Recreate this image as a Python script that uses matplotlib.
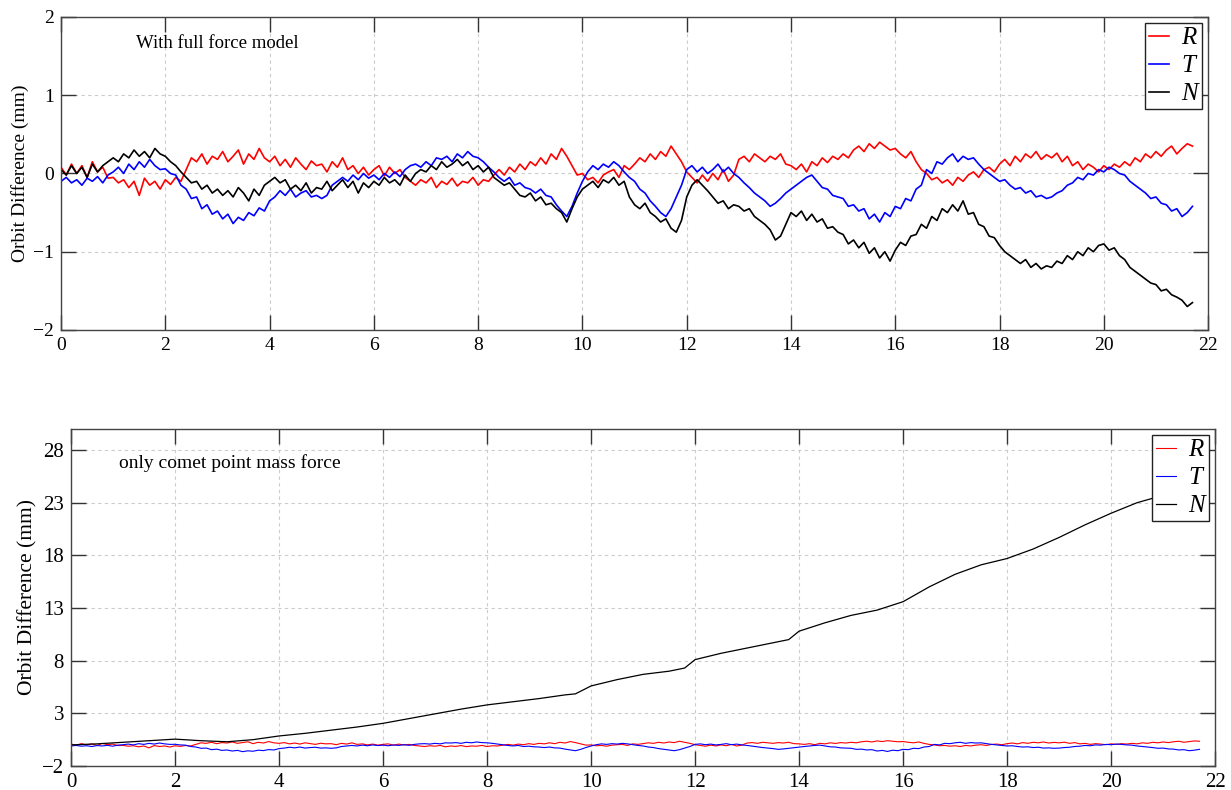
import matplotlib

matplotlib.use("Agg")
import matplotlib.pyplot as plt
import numpy as np

# orbit differences (mm), one sample every 0.1 day
r_full = [
    0.08, -0.02, 0.12, 0.0, 0.10, -0.05, 0.15, 0.02, 0.08, -0.06,
    -0.05, -0.12, -0.08, -0.18, -0.10, -0.28, -0.06, -0.15, -0.10, -0.20,
    -0.08, -0.14, -0.05, -0.10, 0.05, 0.20, 0.15, 0.25, 0.12, 0.22,
    0.18, 0.28, 0.15, 0.22, 0.30, 0.12, 0.25, 0.18, 0.32, 0.20,
    0.15, 0.22, 0.10, 0.18, 0.08, 0.20, 0.12, 0.05, 0.16, 0.10,
    0.12, 0.02, 0.15, 0.08, 0.20, 0.05, 0.10, 0.0, 0.08, -0.02,
    0.05, 0.10, -0.03, 0.08, 0.0, 0.05, -0.05, -0.10, -0.15, -0.08,
    -0.12, -0.05, -0.18, -0.10, -0.14, -0.06, -0.16, -0.10, -0.12, -0.05,
    -0.15, -0.08, -0.10, -0.02, 0.05, -0.02, 0.08, 0.02, 0.12, 0.05,
    0.15, 0.10, 0.20, 0.12, 0.25, 0.18, 0.32, 0.22, 0.10, -0.02,
    0.0, -0.08, -0.05, -0.12, -0.02, 0.02, 0.05, -0.05, 0.10, 0.05,
    0.12, 0.20, 0.15, 0.25, 0.18, 0.28, 0.22, 0.35, 0.25, 0.15,
    0.02, -0.05, -0.12, -0.02, -0.10, 0.0, -0.08, 0.05, -0.10, -0.02,
    0.18, 0.22, 0.15, 0.25, 0.20, 0.15, 0.22, 0.18, 0.25, 0.12,
    0.10, 0.05, 0.12, 0.02, 0.15, 0.10, 0.20, 0.14, 0.22, 0.18,
    0.25, 0.20, 0.30, 0.35, 0.28, 0.38, 0.32, 0.40, 0.35, 0.30,
    0.32, 0.25, 0.20, 0.28, 0.15, 0.05, 0.0, -0.08, -0.05, -0.12,
    -0.08, -0.15, -0.05, -0.10, -0.02, 0.02, -0.05, 0.05, 0.08, 0.02,
    0.12, 0.18, 0.10, 0.22, 0.15, 0.25, 0.20, 0.28, 0.18, 0.24,
    0.20, 0.26, 0.15, 0.22, 0.10, 0.15, 0.05, 0.12, 0.08, 0.02,
    0.10, 0.05, 0.12, 0.08, 0.15, 0.10, 0.20, 0.15, 0.25, 0.20,
    0.28, 0.22, 0.30, 0.35, 0.25, 0.32, 0.38, 0.35,
]
t_full = [
    -0.10, -0.05, -0.12, -0.08, -0.15, -0.06, -0.10, -0.04, -0.12, -0.02,
    0.02, 0.08, 0.0, 0.12, 0.05, 0.15, 0.08, 0.18, 0.10, 0.05,
    0.06, 0.0, -0.02, -0.15, -0.20, -0.32, -0.30, -0.45, -0.40, -0.52,
    -0.48, -0.58, -0.52, -0.64, -0.56, -0.60, -0.50, -0.54, -0.44, -0.48,
    -0.35, -0.30, -0.22, -0.28, -0.20, -0.30, -0.25, -0.22, -0.30, -0.28,
    -0.32, -0.28, -0.15, -0.10, -0.05, -0.10, -0.02, -0.08, 0.0, -0.06,
    -0.02, -0.08, 0.0, -0.05, 0.02, -0.04, 0.05, 0.10, 0.12, 0.08,
    0.15, 0.10, 0.20, 0.18, 0.22, 0.15, 0.25, 0.20, 0.28, 0.22,
    0.20, 0.15, 0.08, 0.02, -0.05, -0.10, -0.05, -0.15, -0.12, -0.18,
    -0.20, -0.25, -0.20, -0.28, -0.30, -0.40, -0.48, -0.55, -0.42, -0.25,
    -0.10, 0.02, 0.10, 0.05, 0.12, 0.08, 0.15, 0.10, 0.02, -0.05,
    -0.10, -0.20, -0.25, -0.35, -0.42, -0.50, -0.55, -0.45, -0.30, -0.15,
    0.05, 0.10, 0.02, 0.08, 0.0, 0.05, 0.12, 0.02, 0.08, 0.0,
    -0.05, -0.12, -0.18, -0.25, -0.30, -0.35, -0.42, -0.38, -0.32, -0.25,
    -0.20, -0.15, -0.10, -0.05, -0.02, -0.10, -0.18, -0.20, -0.28, -0.30,
    -0.32, -0.42, -0.40, -0.48, -0.45, -0.58, -0.52, -0.62, -0.50, -0.55,
    -0.42, -0.45, -0.32, -0.35, -0.20, -0.15, 0.05, 0.0, 0.15, 0.12,
    0.20, 0.25, 0.15, 0.22, 0.18, 0.20, 0.12, 0.05, 0.0, -0.05,
    -0.10, -0.08, -0.15, -0.20, -0.18, -0.25, -0.22, -0.30, -0.28, -0.32,
    -0.30, -0.25, -0.22, -0.15, -0.12, -0.05, -0.08, 0.0, -0.02, 0.05,
    0.02, 0.08, 0.05, 0.0, -0.02, -0.10, -0.15, -0.20, -0.25, -0.32,
    -0.30, -0.38, -0.40, -0.48, -0.45, -0.55, -0.50, -0.42,
]
n_full = [
    0.05, -0.02, 0.10, 0.0, 0.08, -0.05, 0.12, 0.02, 0.10, 0.15,
    0.20, 0.15, 0.25, 0.20, 0.30, 0.22, 0.28, 0.20, 0.32, 0.25,
    0.22, 0.15, 0.10, 0.02, -0.05, -0.12, -0.10, -0.20, -0.15, -0.25,
    -0.20, -0.28, -0.22, -0.30, -0.18, -0.25, -0.35, -0.20, -0.28, -0.15,
    -0.10, -0.05, -0.12, -0.08, -0.20, -0.15, -0.22, -0.12, -0.25, -0.18,
    -0.20, -0.10, -0.22, -0.15, -0.08, -0.18, -0.10, -0.25, -0.12, -0.18,
    -0.10, -0.15, -0.05, -0.12, -0.08, -0.15, -0.02, -0.10, 0.0, 0.05,
    0.02, 0.10, 0.05, 0.15, 0.08, 0.12, 0.18, 0.10, 0.15, 0.05,
    0.10, 0.02, 0.08, -0.05, -0.10, -0.15, -0.12, -0.20, -0.28, -0.30,
    -0.25, -0.35, -0.30, -0.40, -0.38, -0.45, -0.50, -0.62, -0.45, -0.30,
    -0.20, -0.15, -0.10, -0.18, -0.08, -0.12, -0.05, -0.15, -0.10, -0.30,
    -0.40, -0.45, -0.38, -0.50, -0.55, -0.62, -0.58, -0.70, -0.75, -0.60,
    -0.30, -0.15, -0.08, -0.15, -0.22, -0.30, -0.38, -0.35, -0.45, -0.40,
    -0.42, -0.48, -0.45, -0.55, -0.60, -0.65, -0.72, -0.85, -0.80, -0.65,
    -0.50, -0.55, -0.48, -0.60, -0.52, -0.62, -0.58, -0.70, -0.68, -0.75,
    -0.78, -0.90, -0.85, -0.95, -0.88, -1.02, -0.95, -1.08, -1.00, -1.12,
    -0.98, -0.88, -0.92, -0.80, -0.78, -0.65, -0.70, -0.55, -0.60, -0.45,
    -0.50, -0.40, -0.48, -0.35, -0.52, -0.50, -0.65, -0.68, -0.80, -0.82,
    -0.92, -1.00, -1.05, -1.10, -1.15, -1.10, -1.20, -1.15, -1.22, -1.18,
    -1.20, -1.12, -1.15, -1.05, -1.10, -1.00, -1.05, -0.95, -1.00, -0.92,
    -0.90, -0.98, -0.95, -1.05, -1.10, -1.20, -1.25, -1.30, -1.35, -1.40,
    -1.42, -1.50, -1.48, -1.55, -1.58, -1.62, -1.70, -1.65,
]
days = np.arange(len(r_full)) * 0.1

# point-mass-only case: R and T follow the full-model curves, N drifts
n_point_days = [0, 0.5, 1, 1.5, 2, 2.5, 3, 3.5, 4, 4.5, 5, 5.5, 6, 6.5, 7, 7.5,
                8, 8.5, 9, 9.5, 9.7, 10, 10.5, 11, 11.5, 11.8, 12, 12.5, 13,
                13.5, 13.8, 14, 14.5, 15, 15.5, 16, 16.5, 17, 17.5, 18, 18.5,
                19, 19.5, 20, 20.5, 21, 21.7]
n_point = [0.0, 0.1, 0.25, 0.4, 0.55, 0.4, 0.3, 0.5, 0.85, 1.1, 1.4, 1.7, 2.05,
           2.5, 2.95, 3.4, 3.8, 4.1, 4.4, 4.75, 4.85, 5.6, 6.2, 6.7, 7.0, 7.3,
           8.1, 8.7, 9.2, 9.7, 10.0, 10.8, 11.6, 12.3, 12.8, 13.6, 15.0, 16.2,
           17.1, 17.7, 18.6, 19.7, 20.9, 22.0, 23.0, 23.7, 24.6]
r_point = r_full
t_point = t_full

SERIF = "Liberation Serif"
plt.rcParams["font.family"] = SERIF
plt.rcParams["axes.edgecolor"] = "#444444"

fig = plt.figure(figsize=(12.31, 7.90), dpi=100)
ax1 = fig.add_axes([0.0496, 0.5823, 0.9318, 0.3962])
ax2 = fig.add_axes([0.0577, 0.0304, 0.9294, 0.4266])


def style_axes(ax, fs):
    ax.grid(True, color="#cccccc", linestyle=(0, (3, 3)), linewidth=0.8)
    ax.set_axisbelow(True)
    ax.tick_params(direction="in", length=11, width=1.0, top=True, right=True,
                   labelsize=fs, color="#333333", pad=5)
    for s in ax.spines.values():
        s.set_linewidth(1.0)
    ax.set_xlim(0, 22)
    ax.set_xticks(range(0, 23, 2))


leg_kw = dict(loc="upper right", fancybox=False, framealpha=1, edgecolor="#222222",
              handlelength=0.8, handletextpad=0.5, labelspacing=0.22,
              borderpad=0.15, borderaxespad=0.25,
              prop={"family": SERIF, "style": "italic", "size": 18})

ax1.plot(days, r_full, color="red", lw=1.2, label="R")
ax1.plot(days, t_full, color="blue", lw=1.2, label="T")
ax1.plot(days, n_full, color="black", lw=1.2, label="N")
style_axes(ax1, 14)
ax1.set_ylim(-2, 2)
ax1.set_yticks([-2, -1, 0, 1, 2])
ax1.set_yticklabels(["\u22122", "\u22121", "0", "1", "2"])
ax1.set_ylabel("Orbit Difference (mm)", fontsize=14, labelpad=3)
ax1.text(0.065, 0.915, "With full force model", transform=ax1.transAxes,
         fontsize=13.5, va="center", ha="left")
leg = ax1.legend(**leg_kw)
leg.get_frame().set_linewidth(1.0)

ax2.plot(days, r_point, color="red", lw=0.8, label="R")
ax2.plot(days, t_point, color="blue", lw=0.8, label="T")
ax2.plot(n_point_days, n_point, color="black", lw=0.9, label="N")
style_axes(ax2, 15)
ax2.set_ylim(-2, 30)
ax2.set_yticks([-2, 3, 8, 13, 18, 23, 28])
ax2.set_yticklabels(["\u22122", "3", "8", "13", "18", "23", "28"])
ax2.set_ylabel("Orbit Difference (mm)", fontsize=15.5, labelpad=3)
ax2.text(0.042, 0.9, "only comet point mass force", transform=ax2.transAxes,
         fontsize=14, va="center", ha="left")
leg2 = ax2.legend(**leg_kw)
leg2.get_frame().set_linewidth(1.0)

fig.savefig("out.png", dpi=100)
